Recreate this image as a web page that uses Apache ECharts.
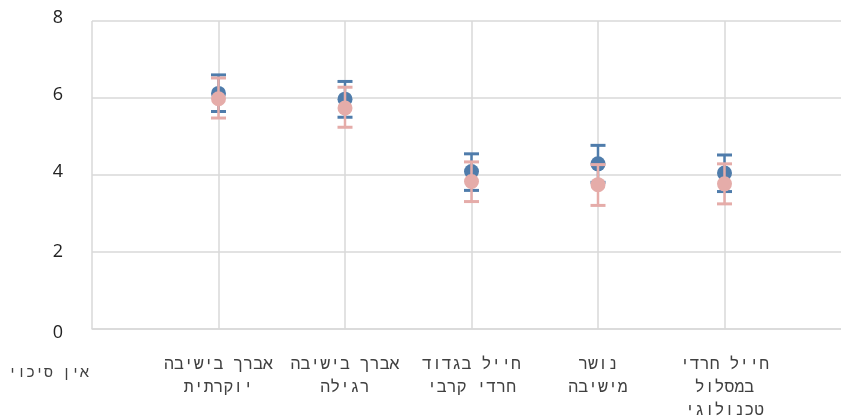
<!DOCTYPE html>
<html><head><meta charset="utf-8">
<script src="https://cdn.jsdelivr.net/npm/echarts@6/dist/echarts.min.js"></script>
<style>html,body{margin:0;padding:0;background:#fff}#c{width:841px;height:416px}</style>
</head><body><div id="c"></div>
<script>
const categories = ['', 'אברך בישיבה\nיוקרתית', 'אברך בישיבה\nרגילה', 'חייל בגדוד\nחרדי קרבי', 'נושר\nמישיבה', 'חייל חרדי\nבמסלול\nטכנולוגי', ''];
const yTicks = [0, 2, 4, 6, 8];
const blueMean = [null, 6.12, 5.97, 4.09, 4.29, 4.05, null];
const blueLow  = [null, 5.65, 5.50, 3.60, 3.81, 3.57, null];
const blueHigh = [null, 6.60, 6.43, 4.55, 4.77, 4.52, null];
const pinkMean = [null, 5.98, 5.74, 3.83, 3.75, 3.77, null];
const pinkLow  = [null, 5.48, 5.24, 3.31, 3.21, 3.25, null];
const pinkHigh = [null, 6.52, 6.28, 4.34, 4.27, 4.29, null];
const zeroLabel = 'אין סיכוי';

const BLUE = '#4f7cab', PINK = '#e5aca9';
const FONT = 'Liberation Mono';

function errData(lo, hi) {
  const out = [];
  lo.forEach((v, i) => { if (v != null) out.push([i, v, hi[i]]); });
  return out;
}
function ptData(m) {
  const out = [];
  m.forEach((v, i) => { if (v != null) out.push([i, v]); });
  return out;
}
function errSeries(lo, hi, color, z) {
  return {
    type: 'custom', z: z,
    data: errData(lo, hi),
    encode: { x: 0, y: [1, 2] },
    renderItem: function (params, api) {
      const x = api.value(0);
      const pLo = api.coord([x, api.value(1)]);
      const pHi = api.coord([x, api.value(2)]);
      const hw = 7.5;
      const st = { stroke: color, lineWidth: 3 };
      return {
        type: 'group',
        children: [
          { type: 'line', shape: { x1: pLo[0], y1: pLo[1], x2: pHi[0], y2: pHi[1] }, style: { stroke: color, lineWidth: 2.5 } },
          { type: 'line', shape: { x1: pLo[0] - hw, y1: pLo[1], x2: pLo[0] + hw, y2: pLo[1] }, style: st },
          { type: 'line', shape: { x1: pHi[0] - hw, y1: pHi[1], x2: pHi[0] + hw, y2: pHi[1] }, style: st }
        ]
      };
    }
  };
}

const chart = echarts.init(document.getElementById('c'), null, { renderer: 'canvas' });
chart.setOption({
  animation: false,
  grid: { left: 92, top: 21, width: 759, height: 308, containLabel: false, outerBoundsMode: 'none' },
  xAxis: {
    type: 'category', data: categories, boundaryGap: false,
    axisLine: { lineStyle: { color: '#d9d9d9', width: 1.5 } },
    axisTick: { show: false },
    splitLine: { show: true, interval: function (i) { return i < categories.length - 1; }, lineStyle: { color: '#d9d9d9', width: 1.5 } },
    axisLabel: { interval: 0, color: '#404040', fontSize: 16.5, fontFamily: FONT, lineHeight: 23, margin: 24, align: 'center' }
  },
  yAxis: {
    type: 'value', min: yTicks[0], max: yTicks[yTicks.length - 1], interval: 2,
    axisLine: { show: false }, axisTick: { show: false },
    splitLine: { lineStyle: { color: '#d9d9d9', width: 1.5 } },
    axisLabel: {
      color: '#222', fontSize: 18, fontFamily: 'Open Sans', margin: 29,
      formatter: function (v) { return v >= 4 ? '{up|' + v + '}' : (v === 0 ? '{dn|' + v + '}' : '{md|' + v + '}'); },
      rich: {
        up: { color: '#222', fontSize: 18, fontFamily: 'Open Sans', padding: [0, 0, 7, 0] },
        md: { color: '#222', fontSize: 18, fontFamily: 'Open Sans' },
        dn: { color: '#222', fontSize: 18, fontFamily: 'Open Sans', padding: [8, 0, 0, 0] }
      }
    }
  },
  graphic: [{
    type: 'text', left: 8, top: 366,
    style: { text: zeroLabel, fill: '#404040', font: '15px "' + FONT + '"' }
  }],
  series: [
    errSeries(blueLow, blueHigh, BLUE, 2),
    { type: 'scatter', z: 3, data: ptData(blueMean), symbolSize: 15, itemStyle: { color: BLUE, opacity: 1 } },
    errSeries(pinkLow, pinkHigh, PINK, 4),
    { type: 'scatter', z: 5, data: ptData(pinkMean), symbolSize: 15, itemStyle: { color: PINK, opacity: 1 } }
  ]
});
</script>
</body></html>
